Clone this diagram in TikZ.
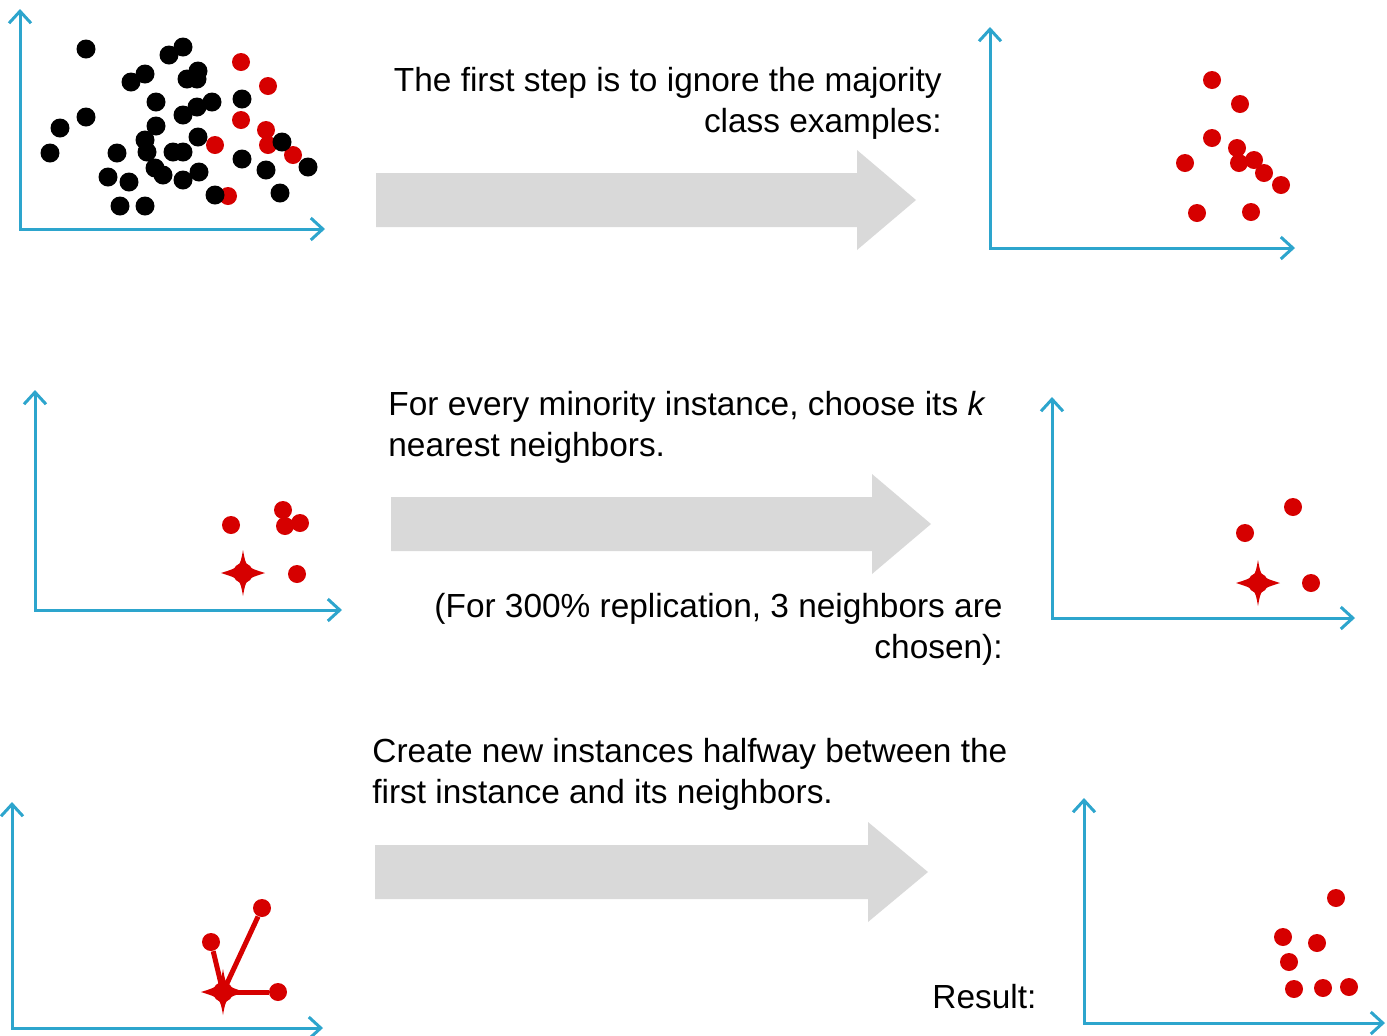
\documentclass[tikz,border=0pt]{standalone}
\usepackage{fontspec}
\setmainfont{Liberation Sans}
\usetikzlibrary{arrows.meta}
\definecolor{axisblue}{RGB}{45,165,205}
\definecolor{dotred}{RGB}{214,0,0}
\definecolor{arrowgray}{RGB}{217,217,217}
\begin{document}
\begin{tikzpicture}[x=0.5pt,y=-0.5pt]
	\tikzset{axisline/.style = {draw=axisblue, line width=1.5pt, line join=miter, {Straight Barb[length=6pt,width=11pt]}-{Straight Barb[length=6pt,width=11pt]}}}
	\tikzset{reddot/.style = {circle, fill=dotred, inner sep=0pt, minimum size=9pt}}
	\tikzset{blackdot/.style = {circle, fill=black, inner sep=0pt, minimum size=9.5pt}}
	\tikzset{caption/.style = {font=\fontsize{16.7}{20.5}\selectfont, inner sep=0pt}}
	\tikzset{link/.style = {draw=dotred, line width=2.5pt}}
	\tikzset{sparkle/.pic = {\fill[dotred] (0,-23) .. controls (3,-6) .. (22,0) .. controls (3,6) .. (0,23) .. controls (-3,6) .. (-22,0) .. controls (-3,-6) .. cycle; \fill[dotred] (0,0) circle (10);}}
	\useasboundingbox (0,0) rectangle (1387,1035);
	% axes
	\foreach \n/\ox/\oy/\tx/\ty in {1/20/229/325/9, 2/990/248/1295/27, 3/35/610/342/390, 4/1052/618/1355/397, 5/12/1028/323/802, 6/1084/1023/1385/798} {
		\coordinate (o\n) at (\ox,\oy);
		\coordinate (y\n) at (\ox,\ty);
		\coordinate (x\n) at (\tx,\oy);
		\draw[axisline] (y\n) -- (o\n) -- (x\n);
	}
	% grey arrows
	\foreach \ax/\ay/\hx/\tx in {376/200/857/916, 391/524/872/931, 375/872/868/928}
		\fill[arrowgray] (\ax,\ay-27) -- (\hx,\ay-27) -- (\hx,\ay-50) -- (\tx,\ay) -- (\hx,\ay+50) -- (\hx,\ay+27) -- (\ax,\ay+27) -- cycle;
	% all data
	\foreach \x/\y [count=\i] in {241/62, 268/86, 241/120, 266/130, 268/145, 215/145, 293/155, 228/196}
		\node[reddot] (a\i) at (\x,\y) {};
	\foreach \x/\y [count=\i] in {86/49, 183/47, 169/55, 145/74, 131/82, 198/71, 187/79, 197/79, 156/102, 212/102, 197/107, 183/115, 242/99, 86/117, 60/128, 50/153, 156/126, 145/140, 147/152, 117/153, 173/152, 183/152, 198/137, 242/159, 282/142, 266/170, 308/167, 108/177, 129/182, 155/168, 163/175, 183/180, 199/172, 215/195, 280/193, 120/206, 145/206}
		\node[blackdot] (k\i) at (\x,\y) {};
	% minority only
	\foreach \x/\y [count=\i] in {1212/80, 1240/104, 1212/138, 1237/148, 1239/163, 1254/160, 1264/173, 1281/185, 1185/163, 1197/213, 1251/212}
		\node[reddot] (b\i) at (\x,\y) {};
	% neighbours
	\coordinate (s3) at (243,573);
	\pic at (s3) {sparkle};
	\foreach \x/\y [count=\i] in {231/525, 283/510, 285/526, 300/523, 297/574}
		\node[reddot] (c\i) at (\x,\y) {};
	\coordinate (s4) at (1258,583);
	\pic at (s4) {sparkle};
	\foreach \x/\y [count=\i] in {1293/507, 1245/533, 1311/583}
		\node[reddot] (d\i) at (\x,\y) {};
	% new instances
	\coordinate (s5) at (223,992);
	\node[reddot] (n1) at (211,942) {};
	\node[reddot] (n2) at (262,908) {};
	\node[reddot] (n3) at (278,992) {};
	\draw[link] (s5) -- (n1);
	\draw[link] (s5) -- (n2);
	\draw[link] (s5) -- (n3);
	\pic at (s5) {sparkle};
	\foreach \x/\y [count=\i] in {1336/898, 1283/937, 1317/943, 1289/962, 1294/989, 1323/988, 1349/987}
		\node[reddot] (e\i) at (\x,\y) {};
	% texts
	\node[caption, anchor=base east, align=right] (t1) at (942,132) {The first step is to ignore the majority\\class examples:};
	\node[caption, anchor=base west, align=left] (t2) at (388,456) {For every minority instance, choose its \textit{k}\\nearest neighbors.};
	\node[caption, anchor=base east, align=right] (t3) at (1003,658) {(For 300\% replication, 3 neighbors are\\chosen):};
	\node[caption, anchor=base west, align=left] (t4) at (372,803) {Create new instances halfway between the\\first instance and its neighbors.};
	\node[caption, anchor=base west] (t5) at (932,1008) {Result:};
\end{tikzpicture}
\end{document}
